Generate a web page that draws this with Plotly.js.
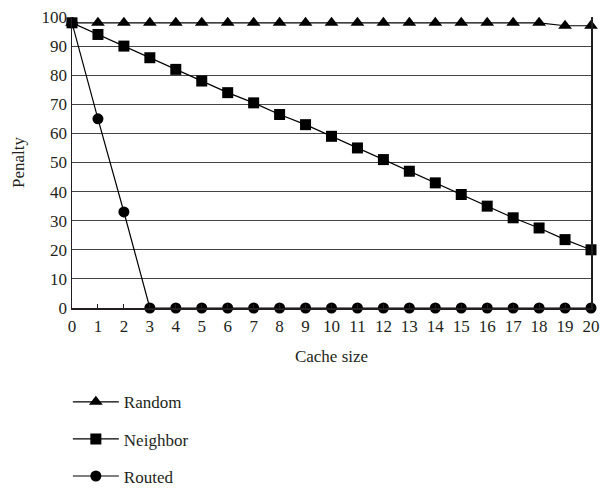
<!DOCTYPE html>
<html><head><meta charset="utf-8">
<script src="https://cdn.plot.ly/plotly-3.0.1.min.js"></script>
<style>html,body{margin:0;padding:0;background:#fff}#chart{width:604px;height:493px}</style>
</head><body><div id="chart"></div>
<script>
const cacheSize = [0,1,2,3,4,5,6,7,8,9,10,11,12,13,14,15,16,17,18,19,20];
const randomPenalty = [98,98,98,98,98,98,98,98,98,98,98,98,98,98,98,98,98,98,98,97,97];
const neighborPenalty = [98,94,90,86,82,78,74,70.5,66.5,63,59,55,51,47,43,39,35,31,27.5,23.5,20];
const routedPenalty = [98,65,33,0,0,0,0,0,0,0,0,0,0,0,0,0,0,0,0,0,0];
const xTicks = cacheSize;
const yTicks = [0,10,20,30,40,50,60,70,80,90,100];

const font = {family: '"Liberation Serif", "DejaVu Serif", serif', color: '#231f20'};
function tr(name, y, symbol, size, group){
  return {x: cacheSize, y: y, name: name, type: 'scatter', mode: 'lines+markers',
    line: {color: '#000', width: 1.2}, marker: {symbol: symbol, size: size, color: '#000'},
    cliponaxis: false, legendgroup: group};
}
const data = [
  tr('Random', randomPenalty, 'triangle-up', 12, 'a'),
  tr('Neighbor', neighborPenalty, 'square', 11, 'b'),
  tr('Routed', routedPenalty, 'circle', 11, 'c')
];
const layout = {
  width: 604, height: 493,
  margin: {l: 72, r: 13, t: 17, b: 185, autoexpand: false},
  paper_bgcolor: '#fff', plot_bgcolor: '#fff',
  font: Object.assign({size: 17}, font),
  showlegend: true,
  legend: {x: -0.008, xanchor: 'left', y: -0.262, yanchor: 'top', traceorder: 'grouped',
    tracegroupgap: 12, font: Object.assign({size: 17}, font), itemwidth: 46, bgcolor: 'rgba(0,0,0,0)'},
  xaxis: {range: [0, 20], tickvals: xTicks, ticks: 'inside', ticklen: 4, tickcolor: '#231f20',
    showline: true, linecolor: '#231f20', linewidth: 1.5, showgrid: false, zeroline: false,
    tickfont: Object.assign({size: 17}, font), fixedrange: true, automargin: false,
    ticklabelstandoff: 2,
    title: {text: 'Cache size', font: Object.assign({size: 17}, font), standoff: 15}},
  yaxis: {range: [0, 100], tickvals: yTicks, ticks: '', showline: true, mirror: true,
    linecolor: '#231f20', linewidth: 1.5, showgrid: true, gridcolor: '#444', gridwidth: 1,
    zeroline: false, tickfont: Object.assign({size: 17}, font), fixedrange: true, automargin: false,
    ticklabelstandoff: 0,
    title: {text: 'Penalty', font: Object.assign({size: 17}, font), standoff: 12}}
};
Plotly.newPlot('chart', data, layout, {displayModeBar: false, staticPlot: true});
</script></body></html>
